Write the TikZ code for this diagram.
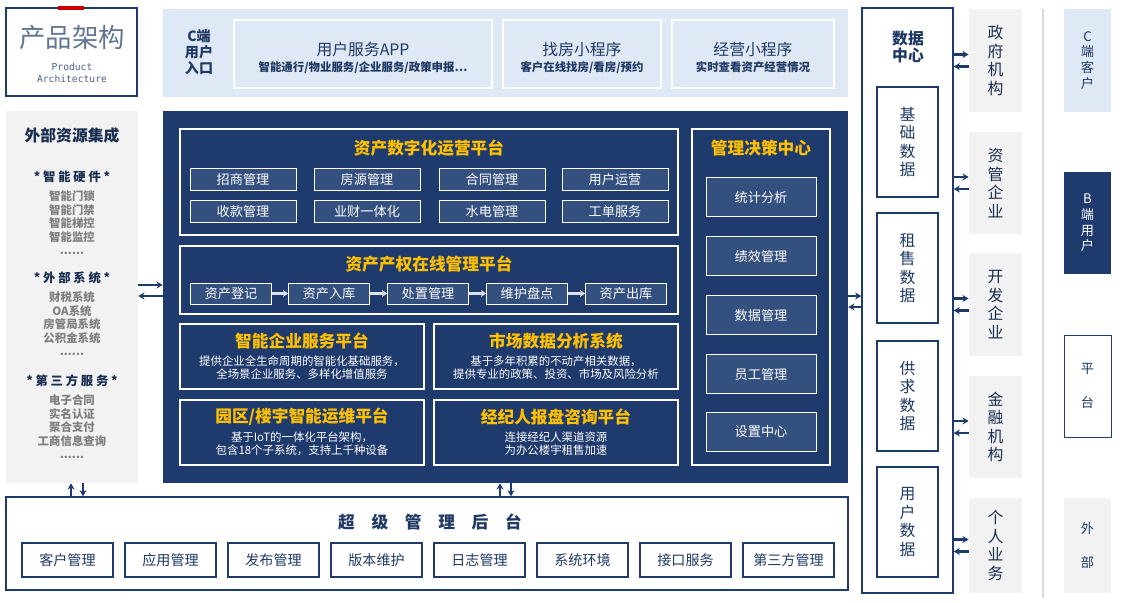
\documentclass[tikz,border=0pt]{standalone}
\usepackage{fontspec}
\setmainfont{Noto Sans CJK SC}
\newfontfamily\monof{DejaVu Sans Mono}
\usetikzlibrary{arrows.meta,fit,positioning}
\definecolor{navy}{HTML}{1F3A6D}
\definecolor{btnblue}{HTML}{34507F}
\definecolor{gold}{HTML}{FFC000}
\definecolor{lightblue}{HTML}{DEE9F5}
\definecolor{lightgray}{HTML}{F2F2F2}
\definecolor{darktxt}{HTML}{1F3864}
\definecolor{graytxt}{HTML}{7F7F7F}
\tikzset{
    area/.style={inner sep=0pt, draw=none},
    size/.style 2 args={rectangle, inner sep=0pt, minimum width=#1*0.02cm, minimum height=#2*0.02cm},
    frame/.style={area, draw=white, thick},
    btn/.style={draw=white, fill=btnblue, text=white, font=\fontsize{7.5}{8}\selectfont},
    wbtn/.style={draw=navy, thick, fill=white, text=darktxt, font=\fontsize{8}{9}\selectfont},
    title/.style={text=gold, font=\fontsize{9.5}{10}\selectfont\bfseries},
    desc/.style={text=white, align=center, font=\fontsize{6.5}{7.5}\selectfont},
    vtext/.style={align=center, font=\fontsize{9}{10.5}\selectfont},
    arr/.style={-{Stealth[length=3.5pt,width=4pt]}, line width=1.4pt, draw=navy},
}
\begin{document}
\begin{tikzpicture}[x=0.02cm, y=-0.02cm]
    \useasboundingbox (0,0) rectangle (1122,602);
    % top left title
    \node[area, draw=navy, thick, fit={(6,8)(137,96)}] (prod) {};
    \fill[red!80!black] (58,6) rectangle (84,10);
    \node[text=darktxt!70, font=\fontsize{15}{16}\selectfont] at (72,38) {产品架构};
    \node[text=darktxt!80, align=center, font=\monof\fontsize{5.5}{7}\selectfont] at (72,73) {Product\\Architecture};
    % C entry band
    \node[area, fill=lightblue, fit={(163,9)(848,97)}] (entry) {};
    \node[text=darktxt, align=center, font=\fontsize{8}{9}\selectfont\bfseries] at (199,52) {C端\\用户\\入口};
    \node[area, draw=white, thick, fit={(234,20)(492,88)}] (app) {};
    \node[area, draw=white, thick, fit={(503,20)(661,88)}] (find) {};
    \node[area, draw=white, thick, fit={(672,20)(834,88)}] (oper) {};
    \foreach \n/\t/\d in {app/用户服务APP/{智能通行/物业服务/企业服务/政策申报…},
                          find/找房小程序/{客户在线找房/看房/预约},
                          oper/经营小程序/实时查看资产经营情况}{
        \node[text=darktxt, font=\fontsize{9}{10}\selectfont] at ([yshift=-17pt]\n.north) {\t};
        \node[text=darktxt, font=\fontsize{6.5}{7}\selectfont\bfseries] at ([yshift=12pt]\n.south) {\d};
    }
    % external resources
    \node[area, fill=lightgray, fit={(6,111)(138,483)}] (ext) {};
    \node[text=darktxt!80!black, font=\fontsize{9}{10}\selectfont\bfseries] at (72,135) {外部资源集成};
    \foreach \y/\h/\a/\b/\c/\d in {177/智\ 能\ 硬\ 件/智能门锁/智能门禁/智能梯控/智能监控,
                                   278/外\ 部\ 系\ 统/财税系统/OA系统/房管局系统/公积金系统,
                                   381/第\ 三\ 方\ 服\ 务/电子合同/实名认证/聚合支付/工商信息查询}{
        \node[text=darktxt!80!black, font=\fontsize{7}{8}\selectfont\bfseries] at (72,\y) {* \h\ *};
        \node[text=graytxt, align=center, font=\fontsize{6.5}{7.7}\selectfont\bfseries, below=1pt] at (72,\y+6) {\a\\\b\\\c\\\d\\......};
    }
    % main platform
    \node[area, fill=navy, fit={(163,111)(848,483)}] (main) {};
    \node[frame, fit={(180,129)(678,235)}] (p1) {};
    \node[title] at (429,148) {资产数字化运营平台};
    \foreach \x/\y/\t in {243/179/招商管理, 367/179/房源管理, 492/179/合同管理, 615/179/用户运营,
                          243/211/收款管理, 367/211/业财一体化, 492/211/水电管理, 615/211/工单服务}
        \node[btn, size={106}{22}] at (\x,\y) {\t};
    \node[frame, fit={(180,246)(678,314)}] (p2) {};
    \node[title] at (429,264) {资产产权在线管理平台};
    \foreach \x/\n/\t in {231/s1/资产登记, 329/s2/资产入库, 428/s3/处置管理, 527/s4/维护盘点, 626/s5/资产出库}
        \node[btn, size={81}{21}] (\n) at (\x,293.5) {\t};
    \foreach \a/\b in {s1/s2,s2/s3,s3/s4,s4/s5}
        \draw[-{Stealth[length=3pt,width=4pt]}, line width=1.2pt, draw=white!85!navy] (\a) -- (\b);
    \node[frame, fit={(180,324)(424,389)}] (q1) {};
    \node[frame, fit={(434,324)(678,389)}] (q2) {};
    \node[frame, fit={(180,400)(424,465)}] (q3) {};
    \node[frame, fit={(434,400)(678,465)}] (q4) {};
    \foreach \n/\t/\d in {q1/智能企业服务平台/{提供企业全生命周期的智能化基础服务，\\全场景企业服务、多样化增值服务},
                          q2/市场数据分析系统/{基于多年积累的不动产相关数据，\\提供专业的政策、投资、市场及风险分析},
                          q3/{园区/楼宇智能运维平台}/{基于IoT的一体化平台架构，\\包含18个子系统，支持上千种设备},
                          q4/经纪人报盘咨询平台/{连接经纪人渠道资源\\为办公楼宇租售加速}}{
        \node[title] at ([yshift=-10pt]\n.north) {\t};
        \node[desc] at ([yshift=-2pt]\n.center) [below=-6pt] {\d};
    }
    \node[frame, fit={(692,129)(830,465)}] (dec) {};
    \node[title] at (761,148) {管理决策中心};
    \foreach \y/\t in {197/统计分析,256/绩效管理,315/数据管理,374/员工管理,432/设置中心}
        \node[btn, size={110}{39}] at (761,\y) {\t};
    % data center
    \node[area, draw=navy, thick, fit={(862,8)(953,593)}] (dc) {};
    \node[text=darktxt, align=center, font=\fontsize{9}{10}\selectfont\bfseries] at (908,47) {数据\\中心};
    \foreach \y/\a/\b in {87/基/础,213/租/售,341/供/求,467/用/户}
        \node[area, draw=navy, thick, fit={(877,\y)(938,\y+110)}] (d\y) {};
    \foreach \y/\a/\b in {87/基/础,213/租/售,341/供/求,467/用/户}
        \node[vtext, text=darktxt] at (d\y.center) {\a\\\b\\数\\据};
    % external organisations
    \foreach \y/\h/\a/\b/\c/\d/\n in {9/103/政/府/机/构/g1, 132/102/资/管/企/业/g2, 253/103/开/发/企/业/g3,
                                      376/102/金/融/机/构/g4, 498/95/个/人/业/务/g5}{
        \node[area, fill=lightgray, fit={(969,\y)(1022,\y+\h)}] (\n) {};
        \node[vtext, text=darktxt!80!black] at (\n.center) {\a\\\b\\\c\\\d};
        \draw[arr] (dc.east |- 0,\y+\h/2-6) -- (\n.west |- 0,\y+\h/2-6);
        \draw[arr] (\n.west |- 0,\y+\h/2+6) -- (dc.east |- 0,\y+\h/2+6);
    }
    \draw[black!15, thick] (1043,9) -- (1043,598);
    \node[area, fill=lightblue, fit={(1064,9)(1111,112)}] (cc) {};
    \node[align=center, text=darktxt, font=\fontsize{7.5}{9}\selectfont] at (cc.center) {C\\端\\客\\户};
    \node[area, fill=navy, fit={(1064,172)(1111,274)}] (bu) {};
    \node[align=center, text=white, font=\fontsize{7.5}{9}\selectfont] at (bu.center) {B\\端\\用\\户};
    \node[area, draw=navy, fill=white, fit={(1064,335)(1111,437)}] (pf) {};
    \node[align=center, text=darktxt, font=\fontsize{7.5}{9}\selectfont] at (pf.center) {平\\[10pt]台};
    \node[area, fill=lightgray, fit={(1064,498)(1111,593)}] (ou) {};
    \node[align=center, text=darktxt, font=\fontsize{7.5}{9}\selectfont] at (ou.center) {外\\[10pt]部};
    % super admin
    \node[area, draw=navy, thick, fit={(6,497)(848,590)}] (adm) {};
    \node[text=darktxt, font=\fontsize{9.5}{10}\selectfont\bfseries] at (430,522) {超\quad 级\quad 管\quad 理\quad 后\quad 台};
    \foreach \x/\t in {22/客户管理,125/应用管理,228/发布管理,331/版本维护,434/日志管理,537/系统环境,640/接口服务,743/第三方管理}
        \node[wbtn, size={91}{34}] at (\x+45.5,560) {\t};
    % connectors
    \draw[arr] (ext.east |- 0,285) -- (main.west |- 0,285);
    \draw[arr] (main.west |- 0,296) -- (ext.east |- 0,296);
    \draw[arr] (main.east |- 0,296) -- (dc.west |- 0,296);
    \draw[arr] (dc.west |- 0,307) -- (main.east |- 0,307);
    \draw[arr] (adm.north -| 71,0) -- (ext.south -| 71,0);
    \draw[arr] (ext.south -| 83,0) -- (adm.north -| 83,0);
    \draw[arr] (adm.north -| 500,0) -- (main.south -| 500,0);
    \draw[arr] (main.south -| 511,0) -- (adm.north -| 511,0);
\end{tikzpicture}
\end{document}
